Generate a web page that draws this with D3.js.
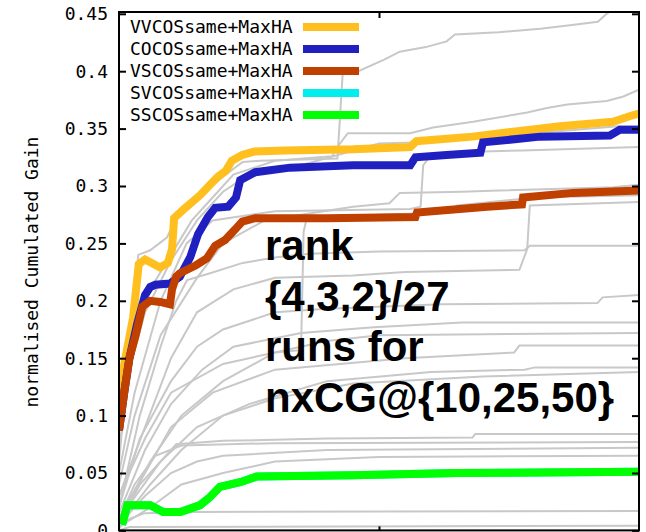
<!DOCTYPE html>
<html>
<head>
<meta charset="UTF-8" />
<script src="https://d3js.org/d3.v7.min.js"></script>
<style>
  body { margin: 0; background: #fff; }
  text { font-family: "DejaVu Sans Mono", monospace; }
</style>
</head>
<body>
<div id="chart"></div>
<script>
// recall fraction (x) vs normalised cumulated gain (y)
const vvcos = [[0,0.09],[0.008,0.14],[0.027,0.185],[0.038,0.232],[0.05,0.236],[0.079,0.229],[0.094,0.233],[0.102,0.245],[0.106,0.272],[0.125,0.28],[0.156,0.292],[0.175,0.301],[0.19,0.308],[0.205,0.313],[0.217,0.322],[0.237,0.327],[0.26,0.33],[0.32,0.331],[0.45,0.332],[0.56,0.334],[0.572,0.339],[0.68,0.343],[0.771,0.348],[0.848,0.352],[0.95,0.356],[0.983,0.361],[1,0.363]]
const cocos = [[0,0.087],[0.01,0.12],[0.02,0.15],[0.035,0.18],[0.05,0.205],[0.06,0.212],[0.07,0.214],[0.098,0.215],[0.117,0.221],[0.137,0.238],[0.152,0.258],[0.171,0.273],[0.185,0.281],[0.21,0.282],[0.225,0.29],[0.233,0.305],[0.262,0.312],[0.329,0.316],[0.45,0.318],[0.56,0.318],[0.57,0.325],[0.63,0.327],[0.695,0.329],[0.7,0.338],[0.81,0.343],[0.944,0.344],[0.963,0.349],[1,0.349]]
const vscos = [[0,0.087],[0.01,0.12],[0.02,0.15],[0.032,0.17],[0.045,0.195],[0.06,0.2],[0.079,0.199],[0.098,0.197],[0.102,0.21],[0.11,0.221],[0.117,0.224],[0.148,0.231],[0.169,0.237],[0.185,0.248],[0.204,0.253],[0.223,0.262],[0.237,0.269],[0.262,0.272],[0.4,0.272],[0.57,0.273],[0.573,0.277],[0.708,0.282],[0.775,0.284],[0.777,0.29],[0.873,0.294],[1,0.296]]
const svcos = [[0.006,0.005],[0.016,0.022],[0.06,0.022],[0.085,0.016],[0.118,0.016],[0.156,0.022],[0.175,0.029],[0.194,0.038],[0.233,0.042],[0.265,0.047],[0.45,0.048],[0.65,0.05],[1,0.051]]
const sscos = [[0.006,0.005],[0.016,0.022],[0.06,0.022],[0.085,0.016],[0.118,0.016],[0.156,0.022],[0.175,0.029],[0.194,0.038],[0.233,0.042],[0.265,0.047],[0.45,0.048],[0.65,0.05],[1,0.051]]

const seriesNames = ['VVCOSsame+MaxHA', 'COCOSsame+MaxHA', 'VSCOSsame+MaxHA', 'SVCOSsame+MaxHA', 'SSCOSsame+MaxHA']
const seriesData = [vvcos, cocos, vscos, svcos, sscos]

// the other runs (grey)
const otherRuns = [
  [[0,0.09],[0.012,0.15],[0.027,0.192],[0.037,0.24],[0.06,0.244],[0.092,0.255],[0.112,0.274],[0.137,0.281],[0.156,0.29],[0.175,0.299],[0.208,0.311],[0.238,0.321],[0.271,0.322],[0.42,0.324],[0.425,0.36],[0.43,0.397],[0.46,0.4],[0.51,0.41],[0.54,0.417],[0.59,0.421],[0.63,0.426],[0.646,0.432],[0.73,0.434],[0.81,0.437],[0.867,0.44],[0.921,0.443],[0.935,0.449],[0.944,0.452],[0.965,0.452],[0.97,0.47]],
  [[0,0.06],[0.015,0.13],[0.03,0.18],[0.06,0.21],[0.1,0.24],[0.14,0.27],[0.18,0.29],[0.22,0.31],[0.3,0.322],[0.41,0.326],[0.42,0.334],[0.44,0.346],[0.56,0.346],[0.604,0.351],[0.681,0.356],[0.785,0.364],[0.823,0.368],[0.862,0.371],[0.938,0.374],[0.97,0.378],[1,0.384]],
  [[0,0.07],[0.02,0.14],[0.05,0.19],[0.1,0.235],[0.15,0.27],[0.2,0.295],[0.25,0.31],[0.35,0.318],[0.5,0.337],[0.57,0.338],[0.7,0.342],[0.85,0.348],[0.96,0.352],[1,0.352]],
  [[0,0.05],[0.03,0.12],[0.08,0.2],[0.13,0.25],[0.18,0.27],[0.3,0.278],[0.56,0.28],[0.58,0.282],[0.585,0.318],[0.6,0.327],[0.7,0.33],[0.775,0.331],[1,0.334]],
  [[0,0.04],[0.03,0.1],[0.08,0.17],[0.15,0.22],[0.2,0.25],[0.28,0.27],[0.35,0.275],[0.45,0.282],[0.52,0.285],[0.54,0.294],[0.66,0.295],[0.73,0.296],[0.95,0.299],[1,0.301]],
  [[0,0.03],[0.05,0.09],[0.1,0.15],[0.15,0.19],[0.22,0.21],[0.3,0.22],[0.45,0.222],[0.55,0.225],[0.77,0.227],[0.785,0.245],[0.79,0.283],[1,0.286]],
  [[0,0.02],[0.04,0.1],[0.08,0.16],[0.11,0.2],[0.131,0.218],[0.175,0.224],[0.238,0.233],[0.303,0.238],[0.367,0.241],[0.5,0.243],[0.78,0.244],[0.79,0.248],[1,0.248]],
  [[0,0.02],[0.04,0.08],[0.1,0.13],[0.15,0.16],[0.2,0.175],[0.3,0.19],[0.4,0.193],[0.62,0.197],[0.92,0.198],[0.93,0.203],[1,0.205]],
  [[0,0.015],[0.05,0.07],[0.1,0.11],[0.16,0.14],[0.22,0.16],[0.35,0.172],[0.49,0.177],[0.66,0.181],[1,0.181]],
  [[0,0.01],[0.06,0.06],[0.12,0.1],[0.2,0.13],[0.3,0.155],[0.4,0.165],[0.5,0.17],[1,0.172]],
  [[0,0.01],[0.05,0.05],[0.1,0.09],[0.18,0.12],[0.3,0.14],[0.55,0.15],[0.76,0.155],[0.77,0.161],[1,0.161]],
  [[0,0.01],[0.08,0.06],[0.15,0.09],[0.25,0.11],[0.4,0.13],[0.6,0.138],[0.78,0.14],[0.8,0.142],[1,0.142]],
  [[0,0.005],[0.06,0.04],[0.12,0.07],[0.2,0.1],[0.3,0.115],[0.45,0.128],[0.7,0.134],[1,0.138]],
  [[0,0.03],[0.05,0.08],[0.1,0.12],[0.2,0.145],[0.3,0.155],[0.35,0.157],[0.355,0.26],[0.36,0.27],[0.5,0.275],[0.63,0.277],[0.65,0.283],[0.8,0.29],[1,0.292]],
  [[0,0.005],[0.04,0.04],[0.08,0.06],[0.11,0.075],[0.2,0.078],[0.4,0.08],[0.68,0.081],[0.685,0.084],[1,0.084]],
  [[0,0.01],[0.03,0.04],[0.07,0.065],[0.12,0.074],[0.3,0.076],[1,0.077]],
  [[0,0.005],[0.05,0.03],[0.1,0.05],[0.15,0.06],[0.2,0.065],[0.4,0.07],[1,0.072]],
  [[0,0.003],[0.06,0.02],[0.12,0.04],[0.2,0.05],[0.3,0.06],[0.5,0.064],[1,0.065]],
  [[0,0.002],[0.02,0.01],[0.05,0.015],[0.14,0.016],[1,0.017]],
  [[0,0],[0.02,0.003],[1,0.004]]
]

const yTicks = [0, 0.05, 0.1, 0.15, 0.2, 0.25, 0.3, 0.35, 0.4, 0.45]
const xTicks = [0.5]
const noteLines = ['rank', '{4,3,2}/27', 'runs for', 'nxCG@{10,25,50}']

const colors = ['#ffbf1f', '#2020c0', '#c04000', '#00eeee', '#00ff00']

const W = 646, H = 532
const mLeft = 119, mRight = 639, mTop = 12, mBottom = 530.4

const svg = d3.select('#chart').append('svg')
  .attr('width', W).attr('height', H)

const x = d3.scaleLinear().domain([0, 1]).range([mLeft, mRight])
const y = d3.scaleLinear().domain([0, 0.45]).range([mBottom, mBottom - 0.45 * 1148])

svg.append('clipPath').attr('id', 'clip')
  .append('rect')
  .attr('x', mLeft).attr('y', mTop)
  .attr('width', mRight - mLeft).attr('height', mBottom - mTop)

const line = d3.line().x(d => x(d[0])).y(d => y(d[1]))

const plot = svg.append('g').attr('clip-path', 'url(#clip)')

plot.selectAll('.grey')
  .data(otherRuns)
  .join('path')
  .attr('class', 'grey')
  .attr('d', line)
  .attr('fill', 'none')
  .attr('stroke', '#c8c8c8')
  .attr('stroke-width', 2)

plot.selectAll('.main')
  .data(seriesData)
  .join('path')
  .attr('class', 'main')
  .attr('d', line)
  .attr('fill', 'none')
  .attr('stroke', (d, i) => colors[i])
  .attr('stroke-width', 8)
  .attr('stroke-linejoin', 'miter')

// frame
svg.append('rect')
  .attr('x', mLeft).attr('y', mTop)
  .attr('width', mRight - mLeft).attr('height', mBottom - mTop)
  .attr('fill', 'none').attr('stroke', '#000').attr('stroke-width', 2)

// y axis left (ticks inside) and mirror on the right
const yAxis = svg.append('g')
  .attr('transform', `translate(${mLeft},0)`)
  .call(d3.axisRight(y).tickValues(yTicks).tickSize(7).tickFormat(''))
yAxis.select('.domain').remove()
yAxis.selectAll('line').attr('stroke-width', 2)

const yAxisR = svg.append('g')
  .attr('transform', `translate(${mRight},0)`)
  .call(d3.axisLeft(y).tickValues(yTicks).tickSize(7).tickFormat(''))
yAxisR.select('.domain').remove()
yAxisR.selectAll('line').attr('stroke-width', 2)

svg.selectAll('.ylab')
  .data(yTicks)
  .join('text')
  .attr('class', 'ylab')
  .attr('x', 108)
  .attr('y', d => y(d))
  .attr('dy', '0.36em')
  .attr('text-anchor', 'end')
  .style('font-size', '18px')
  .text(d => String(+d.toFixed(2)))

// x ticks top and bottom
const xAxisT = svg.append('g')
  .attr('transform', `translate(0,${mTop})`)
  .call(d3.axisBottom(x).tickValues(xTicks).tickSize(6).tickFormat(''))
xAxisT.select('.domain').remove()
xAxisT.selectAll('line').attr('stroke-width', 2)

const xAxisB = svg.append('g')
  .attr('transform', `translate(0,${mBottom})`)
  .call(d3.axisTop(x).tickValues(xTicks).tickSize(4).tickFormat(''))
xAxisB.select('.domain').remove()
xAxisB.selectAll('line').attr('stroke-width', 2)

// y axis title
svg.append('text')
  .attr('transform', 'translate(38,272) rotate(-90)')
  .attr('text-anchor', 'middle')
  .style('font-size', '18px')
  .text('normalised Cumulated Gain')

// legend
const legend = svg.append('g')
seriesNames.forEach((name, i) => {
  const ly = 27 + i * 22
  legend.append('text')
    .attr('x', 130).attr('y', ly).attr('dy', '0.36em')
    .style('font-size', '18px')
    .text(name)
  legend.append('line')
    .attr('x1', 303).attr('x2', 359)
    .attr('y1', ly).attr('y2', ly)
    .attr('stroke', colors[i]).attr('stroke-width', 8)
})

// annotation
svg.append('g').selectAll('text')
  .data(noteLines)
  .join('text')
  .attr('x', 265)
  .attr('y', (d, i) => 260 + i * 50.7)
  .style('font-family', '"Liberation Sans", Arial, sans-serif')
  .style('font-weight', 'bold')
  .style('font-size', '42px')
  .text(d => d)
</script>
</body>
</html>
